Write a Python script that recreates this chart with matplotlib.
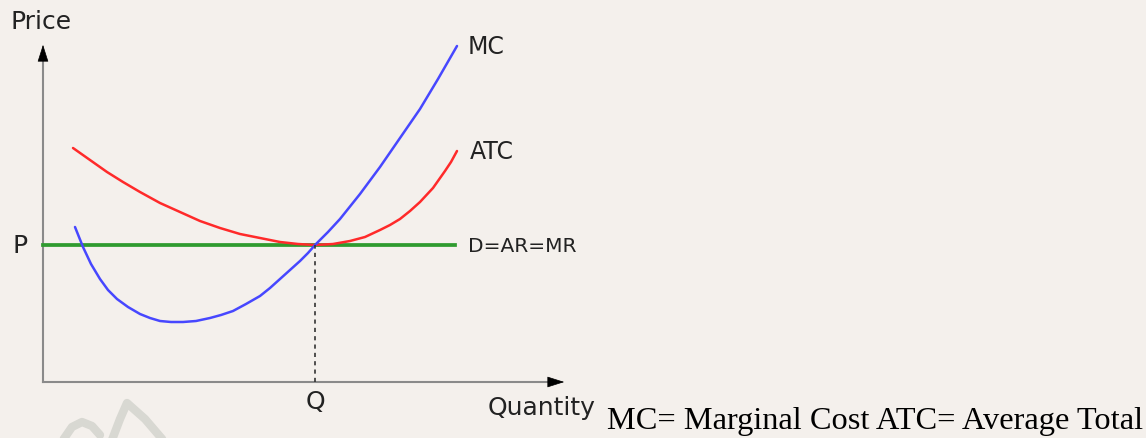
import matplotlib
matplotlib.use("Agg")
from matplotlib import pyplot as plt

# ==========================================================
# Dati (quantita', prezzo)
# origine = incrocio degli assi
# ==========================================================
mc_q = [32, 36, 40, 48, 57, 65, 74, 85, 97, 107, 117, 128, 140, 153, 167, 178,
        190, 203, 217, 227, 237, 247, 257, 265, 272, 285, 297, 317, 337, 357,
        377, 395, 414]
mc_p = [155, 145, 135, 118, 103, 92, 83, 75, 68, 64, 61, 60, 60, 61, 64, 67,
        71, 78, 86, 94, 103, 112, 121, 129, 137, 150, 163, 188, 215, 244,
        273, 303, 336]

atc_q = [30, 47, 64, 80, 97, 117, 137, 157, 177, 197, 217, 237, 255, 272, 290,
         307, 322, 337, 347, 357, 367, 377, 390, 402, 408, 414]
atc_p = [234, 222, 210, 200, 190, 179, 170, 161, 154, 148, 144, 140, 138, 137,
         138, 141, 145, 152, 157, 163, 171, 180, 194, 211, 220, 231]

price_level = 137
q_star = 272
demand_q = [0, 412]

labels = ["MC", "ATC", "D=AR=MR"]
footer = "MC= Marginal Cost ATC= Average Total"

BG = "#f4f0ec"
TXT = "#222222"

fig = plt.figure(figsize=(11.46, 4.39), dpi=100)
fig.patch.set_facecolor(BG)

# watermark leggero in basso a sinistra
bg = fig.add_axes([0, 0, 1, 1])
bg.set_xlim(0, 1146)
bg.set_ylim(439, 0)
bg.axis("off")
bg.plot([63, 72, 82, 92, 100], [441, 428, 423, 427, 436], color="#d8d8d2",
        lw=6, solid_capstyle="round")
bg.plot([112, 120, 127, 145, 163], [441, 420, 404, 420, 441], color="#d8d8d2",
        lw=6, solid_capstyle="round")

# ==========================================================
# Grafico principale
# ==========================================================
ax = fig.add_axes([43 / 1146, 56 / 439, 524 / 1146, 340 / 439])
ax.set_xlim(0, 524)
ax.set_ylim(0, 340)
ax.axis("off")

# assi con frecce
ax.plot([0, 0], [0, 330], color="#8a8a8a", lw=1.5, clip_on=False)
ax.plot([0, 512], [0, 0], color="#8a8a8a", lw=1.5, clip_on=False)
ax.annotate("", xy=(0, 340), xytext=(0, 322),
            arrowprops=dict(arrowstyle="-|>,head_length=1.1,head_width=0.35",
                            color="black", lw=0.5), annotation_clip=False)
ax.annotate("", xy=(524, 0), xytext=(506, 0),
            arrowprops=dict(arrowstyle="-|>,head_length=1.1,head_width=0.35",
                            color="black", lw=0.5), annotation_clip=False)

# curve
ax.plot(demand_q, [price_level, price_level], color="#2f9b2f", lw=2.7, clip_on=False)
ax.plot(atc_q, atc_p, color="#ff2a2a", lw=1.8, clip_on=False,
        solid_joinstyle="round", solid_capstyle="round")
ax.plot(mc_q, mc_p, color="#4747ff", lw=1.8, clip_on=False,
        solid_joinstyle="round", solid_capstyle="round")
ax.plot([q_star, q_star], [0, price_level], color="#333333", lw=1.2,
        ls=(0, (2.5, 2.5)), clip_on=False)

# etichette
ax.text(425, 336, labels[0], fontsize=17, color=TXT, va="center", ha="left")
ax.text(427, 231, labels[1], fontsize=17, color=TXT, va="center", ha="left")
ax.text(425, 136, labels[2], fontsize=14.5, color=TXT, va="center", ha="left")
ax.text(-23, price_level, "P", fontsize=18, color=TXT, va="center", ha="center")
ax.text(q_star, -19, "Q", fontsize=18, color=TXT, va="center", ha="center")
ax.text(-2, 361, "Price", fontsize=18, color=TXT, va="center", ha="center")
ax.text(445, -25, "Quantity", fontsize=18, color=TXT, va="center", ha="left")

fig.text(607 / 1146, (439 - 422) / 439, footer, fontsize=23.3,
         family="Liberation Serif", color="black", va="center", ha="left")

fig.savefig("out.png", dpi=100, facecolor=BG)
